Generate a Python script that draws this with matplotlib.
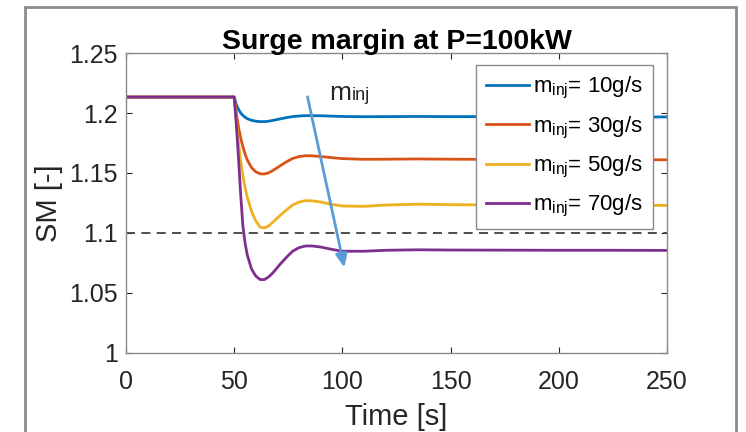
import matplotlib
matplotlib.use('Agg')
import matplotlib.pyplot as plt
from matplotlib.patches import Rectangle

plt.rcParams['font.family'] = ['Liberation Sans', 'DejaVu Sans']
plt.rcParams['mathtext.fontset'] = 'custom'
plt.rcParams['mathtext.rm'] = 'Liberation Sans'

# time [s]
t = [0, 50, 51, 52, 53, 54, 55, 56, 58, 60, 62, 64, 66, 68, 71, 74, 77, 80,
     83, 86, 90, 95, 100, 110, 120, 135, 150, 175, 200, 225, 250]

sm_10 = [1.2133, 1.2133, 1.207, 1.203, 1.2, 1.198, 1.1965, 1.1953, 1.1939,
         1.1932, 1.1928, 1.1928, 1.1932, 1.1939, 1.195, 1.1961, 1.197,
         1.1975, 1.1978, 1.1978, 1.1977, 1.1974, 1.1971, 1.1969, 1.197,
         1.1971, 1.197, 1.1969, 1.1968, 1.1968, 1.1967]
sm_30 = [1.2133, 1.2133, 1.2, 1.188, 1.179, 1.172, 1.166, 1.161, 1.1545,
         1.151, 1.1493, 1.1492, 1.1502, 1.1522, 1.1557, 1.1592, 1.1621,
         1.1637, 1.1644, 1.1643, 1.1637, 1.1628, 1.162, 1.1614, 1.1615,
         1.1617, 1.1615, 1.1613, 1.1612, 1.1611, 1.161]
sm_50 = [1.2133, 1.2133, 1.193, 1.175, 1.16, 1.148, 1.138, 1.13, 1.118,
         1.11, 1.1048, 1.1043, 1.106, 1.1092, 1.1142, 1.119, 1.1233,
         1.1258, 1.127, 1.1268, 1.1258, 1.1238, 1.1225, 1.1222, 1.1233,
         1.124, 1.1236, 1.1233, 1.1232, 1.1231, 1.123]
sm_70 = [1.2133, 1.2133, 1.19, 1.162, 1.132, 1.106, 1.092, 1.082, 1.07,
         1.064, 1.0612, 1.0612, 1.0635, 1.067, 1.0735, 1.0795, 1.0848,
         1.0878, 1.0892, 1.0892, 1.0883, 1.0864, 1.0848, 1.0848, 1.0856,
         1.086, 1.0858, 1.0857, 1.0856, 1.0856, 1.0855]

labels = [r'm$_{\mathregular{inj}}$= 10g/s', r'm$_{\mathregular{inj}}$= 30g/s',
          r'm$_{\mathregular{inj}}$= 50g/s', r'm$_{\mathregular{inj}}$= 70g/s']
colors = ['#0072BD', '#D95319', '#EDB120', '#7E2F8E']
sm_limit = 1.1

fig = plt.figure(figsize=(7.46, 4.32), dpi=100)
ax = fig.add_axes([0.1689, 0.1829, 0.7252, 0.6944])

for y, lab, c in zip([sm_10, sm_30, sm_50, sm_70], labels, colors):
    ax.plot(t, y, color=c, lw=2, label=lab)
ax.axhline(sm_limit, color='#404040', lw=1.3, ls=(0, (5, 3.5)))

# arrow showing increasing injection
ax.annotate('', xy=(101.2, 1.069), xytext=(83.6, 1.2158),
            arrowprops=dict(arrowstyle='-|>,head_length=0.8,head_width=0.35',
                            color='#5B9BD5', lw=2))
ax.text(93.8, 1.2108, 'm', fontsize=19, color='#262626', va='baseline')
ax.annotate('inj', xy=(93.8, 1.2108), xytext=(16.5, 0), textcoords='offset points',
            fontsize=13, color='#262626', va='baseline')

ax.set_xlim(0, 250)
ax.set_ylim(1, 1.25)
ax.set_xticks([0, 50, 100, 150, 200, 250])
ax.set_yticks([1, 1.05, 1.1, 1.15, 1.2, 1.25])
ax.set_yticklabels(['1', '1.05', '1.1', '1.15', '1.2', '1.25'])
ax.tick_params(direction='in', top=True, right=True, labelsize=18,
               colors='#262626', length=4, width=0.8)
ax.tick_params(axis='x', pad=12)
ax.tick_params(axis='y', pad=6)
for s in ax.spines.values():
    s.set_color('#8a8a8a')
    s.set_linewidth(1)
ax.set_xlabel('Time [s]', fontsize=21, color='#262626', labelpad=7)
ax.set_ylabel('SM [-]', fontsize=21, color='#262626', labelpad=4)
ax.set_title('Surge margin at P=100kW', fontsize=20.5, fontweight='bold', pad=3)

leg = ax.legend(loc='upper right', bbox_to_anchor=(0.974, 0.96), borderaxespad=0,
                fontsize=16, fancybox=False, framealpha=1, handlelength=1.95,
                labelspacing=0.6, handletextpad=0.18, borderpad=0.45)
leg.get_frame().set_edgecolor('#8a8a8a')
leg.get_frame().set_linewidth(1)

fig.patches.append(Rectangle((25 / 746, -0.05), 711 / 746, 1 - 7 / 432 + 0.05,
                             transform=fig.transFigure, fill=False,
                             edgecolor='#8c8c8c', lw=2))

fig.savefig('out.png', dpi=100)
